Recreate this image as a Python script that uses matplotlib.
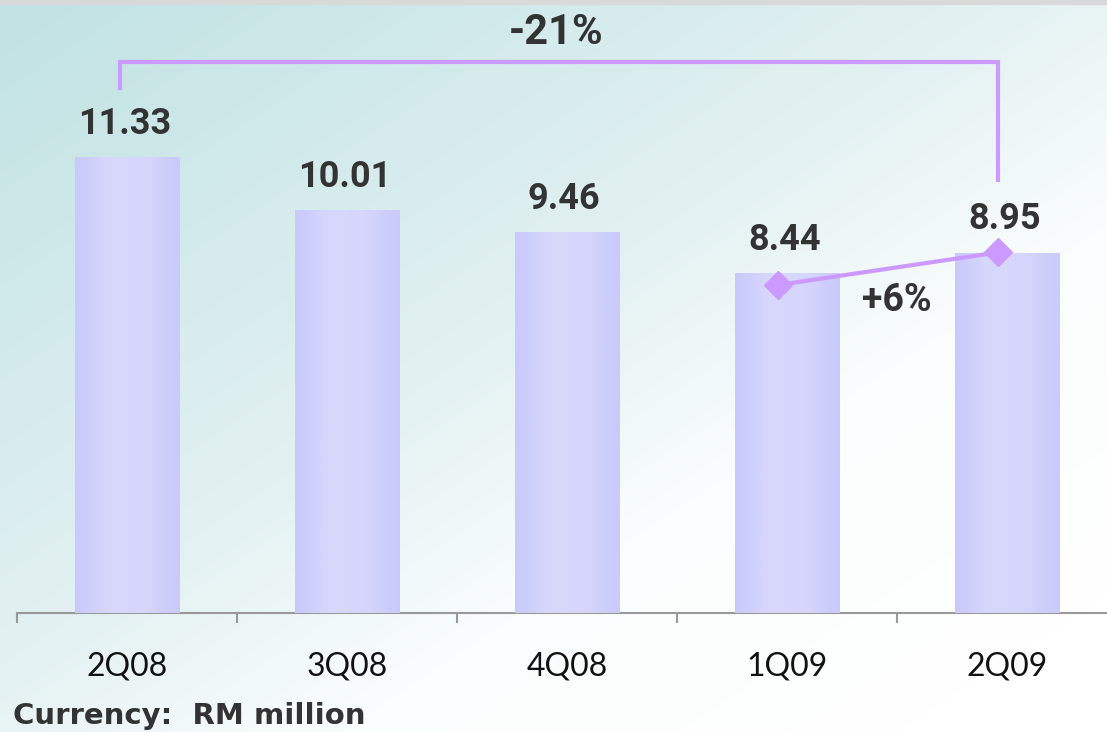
import numpy as np
import matplotlib.pyplot as plt
from matplotlib.colors import LinearSegmentedColormap

quarters = ["2Q08", "3Q08", "4Q08", "1Q09", "2Q09"]
revenue = [11.33, 10.01, 9.46, 8.44, 8.95]
yoy_label = "-21%"
qoq_label = "+6%"
unit_note = "Currency:  RM million"

text_col = "#333333"
line_col = "#cc99ff"

fig = plt.figure(figsize=(11.07, 7.32), dpi=100)

# background wash: teal in the upper left fading to white
bg = fig.add_axes([0, 0, 1, 1])
h, w = 732, 1107
yy, xx = np.mgrid[0:h, 0:w]
t = np.clip(0.55 * xx / w + 0.55 * yy / h, 0, 1)
bg_cmap = LinearSegmentedColormap.from_list(
    "wash", [(0, "#c0e2e3"), (0.5, "#e3f1f2"), (0.72, "#fafdfd"), (1, "#ffffff")])
bg.imshow(t, cmap=bg_cmap, aspect="auto", extent=[0, 1, 0, 1], origin="upper")
bg.axhspan(1 - 4 / h, 1, color="#d9d9d9")
bg.set_xlim(0, 1)
bg.set_ylim(0, 1)
bg.axis("off")

ax = fig.add_axes([17 / w, 1 - 613 / h, 1100 / w, 613 / h])
ax.patch.set_alpha(0)
x = np.arange(len(quarters))
bars = ax.bar(x, revenue, width=0.477, color="#d0d0fc", zorder=2)

# soft horizontal shading inside each bar
bar_cmap = LinearSegmentedColormap.from_list(
    "bar", ["#c9c9fd", "#d8d8fd", "#d6d6fc", "#c9c9fd"])
grad = np.linspace(0, 1, 64).reshape(1, -1)
for b in bars:
    x0, y0 = b.get_x(), b.get_y()
    im = ax.imshow(grad, cmap=bar_cmap, aspect="auto", zorder=3,
                   extent=[x0, x0 + b.get_width(), y0, y0 + b.get_height()])
    im.set_clip_path(b)

ax.set_xlim(-0.5, 4.5)
ax.set_ylim(0, 15.23)

for xi, v in zip(x, revenue):
    ax.annotate(f"{v:.2f}", (xi, v), xytext=(-2, 24), textcoords="offset points",
                ha="center", va="center", fontsize=26, fontweight="bold",
                family="Roboto", color=text_col, zorder=5)

# year-on-year bracket from 2Q08 to 2Q09
y_top = 13.69
ax.plot([x[0] - 0.03, x[0] - 0.03, x[4] - 0.04, x[4] - 0.04],
        [revenue[0] + 1.71, y_top, y_top, revenue[4] + 1.81],
        color=line_col, lw=3, solid_joinstyle="miter", zorder=4, clip_on=False)
ax.text((x[0] + x[4]) / 2 - 0.05, 14.42, yoy_label, ha="center", va="center",
        fontsize=30, fontweight="bold", family="Roboto", color=text_col)

# quarter-on-quarter change between 1Q09 and 2Q09
ax.plot([x[3] - 0.04, x[4] - 0.04], [revenue[3] - 0.29, revenue[4] + 0.01],
        color=line_col, lw=3, marker="D", ms=14, zorder=6)
ax.text(x[3] + 0.5, 7.77, qoq_label, ha="center", va="center",
        fontsize=27, fontweight="bold", family="Roboto", color=text_col)

for s in ["top", "right", "left"]:
    ax.spines[s].set_visible(False)
ax.spines["bottom"].set_color("#999999")
ax.spines["bottom"].set_linewidth(1.5)
ax.set_yticks([])
ax.set_xticks(x)
ax.set_xticklabels(quarters, fontsize=23, family="Lato", color="#111111")
ax.tick_params(axis="x", which="major", length=0, pad=28)
ax.set_xticks(np.arange(-0.5, 5, 1), minor=True)
ax.tick_params(axis="x", which="minor", length=7, width=1.5, color="#999999",
               direction="out")

fig.text(13 / w, 1 - 716 / h, unit_note, ha="left", va="center", fontsize=21,
         fontweight="bold", family="DejaVu Sans", color=text_col)

fig.savefig("out.png", dpi=100)
